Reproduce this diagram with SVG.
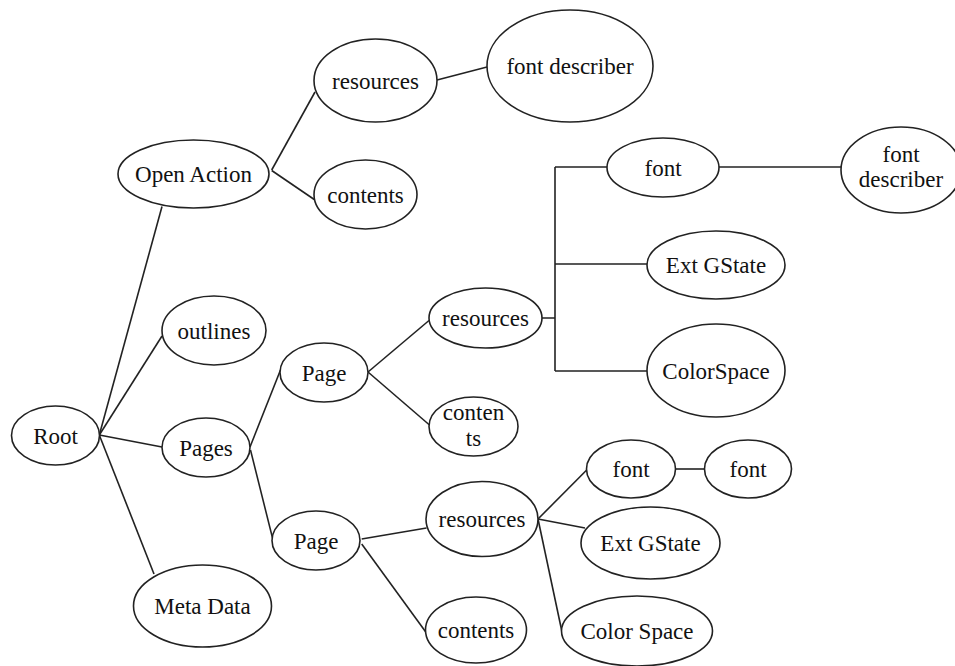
<svg xmlns="http://www.w3.org/2000/svg" width="955" height="666" viewBox="0 0 955 666">
<style>
ellipse{fill:#fff;stroke:#222;stroke-width:1.6}
text{font-family:"Liberation Serif","Times New Roman",serif;font-size:23px;fill:#111;text-anchor:middle}
#connectors path,#connectors line{stroke:#222;stroke-width:1.6;fill:none}
</style>
<rect width="955" height="666" fill="#fff"/>
<g id="connectors">
<line x1="99.3" y1="435" x2="162" y2="206.5"/>
<line x1="99.3" y1="435" x2="162" y2="336"/>
<line x1="99.3" y1="435" x2="162" y2="447"/>
<line x1="99.3" y1="435" x2="154" y2="574"/>
<line x1="271.7" y1="170" x2="315" y2="92"/>
<line x1="271.7" y1="170.5" x2="315" y2="200"/>
<line x1="437" y1="80" x2="487" y2="67"/>
<line x1="250" y1="447" x2="280.5" y2="370"/>
<line x1="250.5" y1="450" x2="273" y2="540"/>
<line x1="368" y1="372" x2="429" y2="320.5"/>
<line x1="368" y1="372" x2="429.5" y2="425"/>
<line x1="361.7" y1="539" x2="426.5" y2="528"/>
<line x1="361.7" y1="544" x2="426.5" y2="633"/>
<path d="M541.7,318H555M555,167V371M555,167H607M555,264H647M555,371H647"/>
<line x1="719" y1="167" x2="841.5" y2="167"/>
<line x1="538" y1="519" x2="586.7" y2="470"/>
<line x1="538" y1="519" x2="585" y2="528"/>
<line x1="538" y1="519" x2="562" y2="632"/>
<line x1="676" y1="469" x2="705" y2="469"/>
</g>
<g id="root"><ellipse cx="55.5" cy="435.5" rx="44" ry="29.5"/><text x="55.5" y="443.5">Root</text></g>
<g id="open-action"><ellipse cx="193.5" cy="174" rx="75.5" ry="34"/><text x="193.5" y="182">Open Action</text></g>
<g id="outlines"><ellipse cx="214" cy="330.5" rx="52" ry="34.5"/><text x="214" y="338.5">outlines</text></g>
<g id="pages"><ellipse cx="206" cy="447.5" rx="44" ry="29.5"/><text x="206" y="455.5">Pages</text></g>
<g id="meta-data"><ellipse cx="202.5" cy="606" rx="69" ry="41"/><text x="202.5" y="614">Meta Data</text></g>
<g id="oa-resources"><ellipse cx="375.5" cy="80.5" rx="61.5" ry="41.5"/><text x="375.5" y="88.5">resources</text></g>
<g id="oa-contents"><ellipse cx="365.5" cy="194.5" rx="51.5" ry="34.5"/><text x="365.5" y="202.5">contents</text></g>
<g id="oa-font-describer"><ellipse cx="570" cy="66" rx="83" ry="56"/><text x="570" y="74">font describer</text></g>
<g id="page1"><ellipse cx="324" cy="372.5" rx="44" ry="29.5"/><text x="324" y="380.5">Page</text></g>
<g id="page2"><ellipse cx="316" cy="540.5" rx="44" ry="29.5"/><text x="316" y="548.5">Page</text></g>
<g id="p1-resources"><ellipse cx="485.5" cy="318" rx="56.5" ry="30"/><text x="485.5" y="326">resources</text></g>
<g id="p1-contents"><ellipse cx="473.5" cy="426.5" rx="44.5" ry="29.5"/><text x="473.5" y="420">conten</text><text x="473.5" y="446">ts</text></g>
<g id="p1-font"><ellipse cx="663" cy="167.5" rx="56" ry="29.5"/><text x="663" y="175.5">font</text></g>
<g id="p1-font-describer"><ellipse cx="901" cy="170" rx="60" ry="43"/><text x="901" y="162">font</text><text x="901" y="187">describer</text></g>
<g id="p1-extgstate"><ellipse cx="716" cy="265" rx="69" ry="34"/><text x="716" y="273">Ext GState</text></g>
<g id="p1-colorspace"><ellipse cx="716" cy="370.5" rx="69" ry="46.5"/><text x="716" y="378.5">ColorSpace</text></g>
<g id="p2-resources"><ellipse cx="482" cy="519" rx="56" ry="37.5"/><text x="482" y="527">resources</text></g>
<g id="p2-contents"><ellipse cx="476" cy="630" rx="50.5" ry="33"/><text x="476" y="638">contents</text></g>
<g id="p2-font1"><ellipse cx="631" cy="469" rx="44.5" ry="29"/><text x="631" y="477">font</text></g>
<g id="p2-font2"><ellipse cx="748" cy="469" rx="43.5" ry="29"/><text x="748" y="477">font</text></g>
<g id="p2-extgstate"><ellipse cx="650.5" cy="543" rx="69.5" ry="36"/><text x="650.5" y="551">Ext GState</text></g>
<g id="p2-colorspace"><ellipse cx="637" cy="631" rx="75.5" ry="35"/><text x="637" y="639">Color Space</text></g>
</svg>
